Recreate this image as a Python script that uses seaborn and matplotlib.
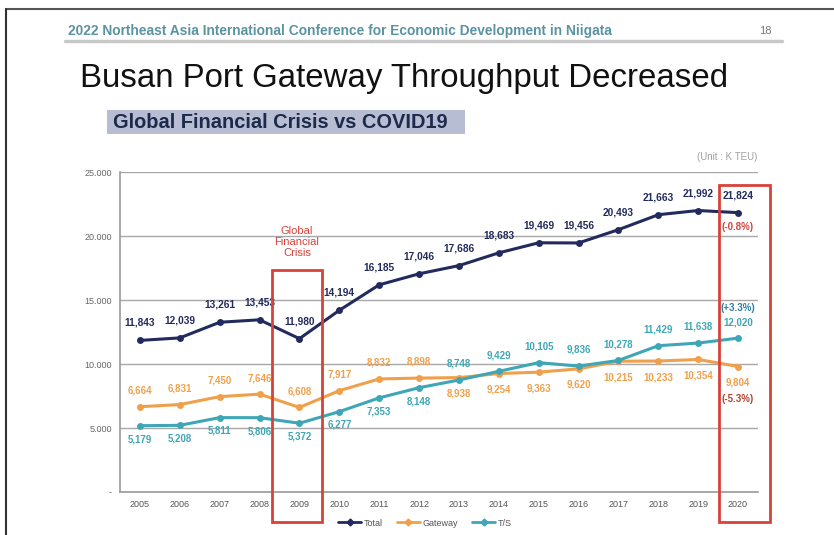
import matplotlib
matplotlib.use("Agg")
import matplotlib.pyplot as plt
from matplotlib.patches import Rectangle
from matplotlib.lines import Line2D
import seaborn as sns
import pandas as pd
import numpy as np

years = [2005, 2006, 2007, 2008, 2009, 2010, 2011, 2012, 2013, 2014, 2015, 2016, 2017, 2018, 2019, 2020]
total = [11843, 12039, 13261, 13453, 11980, 14194, 16185, 17046, 17686, 18683, 19469, 19456, 20493, 21663, 21992, 21824]
gateway = [6664, 6831, 7450, 7646, 6608, 7917, 8832, 8898, 8938, 9254, 9363, 9620, 10215, 10233, 10354, 9804]
ts = [5179, 5208, 5811, 5806, 5372, 6277, 7353, 8148, 8748, 9429, 10105, 9836, 10278, 11429, 11638, 12020]
series_names = ["Total", "Gateway", "T/S"]
change_labels = ["(-0.8%)", "(-5.3%)", "(+3.3%)"]
y_ticks = [0, 5000, 10000, 15000, 20000, 25000]
y_tick_labels = ["-", "5.000", "10.000", "15.000", "20.000", "25.000"]

sns.set_theme(style="white")
plt.rcParams['font.family'] = ['Liberation Sans', 'DejaVu Sans']

W, H = 834, 535
fig = plt.figure(figsize=(W / 100, H / 100), dpi=100)
fig.patch.set_facecolor("white")

def fx(px):
    return px / W

def fy(py):
    return 1 - py / H

ax = fig.add_axes([fx(120), fy(492), fx(758) - fx(120), fy(172) - fy(492)])

colors = {"Total": "#232b5e", "Gateway": "#f0a04b", "T/S": "#3ea6b6"}
df = pd.DataFrame({
    "Year": years * 3,
    "Value": total + gateway + ts,
    "Series": ["Total"] * len(years) + ["Gateway"] * len(years) + ["T/S"] * len(years),
})
sns.lineplot(data=df, x="Year", y="Value", hue="Series", hue_order=series_names,
             palette=colors, marker="o", markersize=5, markeredgewidth=0,
             linewidth=2.2, ax=ax, legend=False)

ax.set_xlim(years[0] - 0.5, years[-1] + 0.5)
ax.set_ylim(0, 25000)
ax.set_yticks(y_ticks)
ax.set_yticklabels(y_tick_labels)
ax.set_xticks(years)
ax.set_xticklabels([str(y) for y in years])
ax.set_xticks([y + 0.5 for y in [years[0] - 1] + years], minor=True)
ax.tick_params(axis="x", which="major", length=0, labelsize=6.5, labelcolor="#555555", pad=6)
ax.tick_params(axis="x", which="minor", length=3, color="#999999", width=0.8, direction="out")
ax.tick_params(axis="y", length=3, color="#999999", labelsize=6.5, labelcolor="#666666", pad=3, direction="out")
ax.grid(axis="y", color="#a8a8a8", linewidth=1.0)
ax.set_axisbelow(True)
ax.set_xlabel("")
ax.set_ylabel("")
for s in ["top", "right"]:
    ax.spines[s].set_visible(False)
ax.spines["left"].set_color("#9a9a9a")
ax.spines["bottom"].set_color("#9a9a9a")
ax.spines["left"].set_linewidth(1.2)
ax.spines["bottom"].set_linewidth(1.2)

# data labels
for i, (yr, v) in enumerate(zip(years, total)):
    ax.annotate(f"{v:,}", (yr, v), xytext=(0, 9), textcoords="offset points",
                ha="center", va="bottom", fontsize=7.3, fontweight="bold", color=colors["Total"])
for i, (yr, v) in enumerate(zip(years, gateway)):
    off = 8 if i <= 7 else -8
    ax.annotate(f"{v:,}", (yr, v), xytext=(0, off), textcoords="offset points",
                ha="center", va="bottom" if off > 0 else "top", fontsize=7.0,
                fontweight="bold", color=colors["Gateway"])
for i, (yr, v) in enumerate(zip(years, ts)):
    off = -6 if i <= 7 else 8
    ax.annotate(f"{v:,}", (yr, v), xytext=(0, off), textcoords="offset points",
                ha="center", va="bottom" if off > 0 else "top", fontsize=7.0,
                fontweight="bold", color=colors["T/S"])

red = "#d8423a"
ax.annotate(change_labels[0], (years[-1], total[-1]), xytext=(0, -7), textcoords="offset points",
            ha="center", va="top", fontsize=7.0, fontweight="bold", color=red)
ax.annotate(change_labels[1], (years[-1], gateway[-1]), xytext=(0, -20), textcoords="offset points",
            ha="center", va="top", fontsize=7.0, fontweight="bold", color="#b8402e")
ax.annotate(change_labels[2], (years[-1], ts[-1]), xytext=(0, 18), textcoords="offset points",
            ha="center", va="bottom", fontsize=7.0, fontweight="bold", color="#2e7fa0")

# red highlight boxes (figure pixel coords)
fig.patches.append(Rectangle((fx(272), fy(522)), fx(322) - fx(272), fy(270) - fy(522),
                             transform=fig.transFigure, fill=False, edgecolor=red, linewidth=2))
fig.patches.append(Rectangle((fx(719), fy(522)), fx(770) - fx(719), fy(185) - fy(522),
                             transform=fig.transFigure, fill=False, edgecolor=red, linewidth=2))
fig.text(fx(297), fy(242), "Global\nFinancial\nCrisis", ha="center", va="center",
         fontsize=8, color=red, linespacing=1.15)

fig.text(fx(757), fy(157), "(Unit : K TEU)", ha="right", va="center", fontsize=7, color="#a0a0a0")

# legend
handles = [Line2D([0], [0], color=colors[n], marker="D", markersize=3.5, linewidth=2) for n in series_names]
fig.legend(handles, series_names, loc="center", bbox_to_anchor=(fx(425), fy(523)), ncol=3,
           frameon=False, fontsize=6.5, handlelength=2.6, columnspacing=1.5, handletextpad=0.3,
           labelcolor="#555555")

# slide header
fig.text(fx(68), fy(31), "2022 Northeast Asia International Conference for Economic Development in Niigata",
         ha="left", va="center", fontsize=9.9, fontweight="bold", color="#5b93a3")
fig.text(fx(772), fy(31), "18", ha="right", va="center", fontsize=8, color="#777777")
fig.lines.append(Line2D([fx(65), fx(782)], [fy(41), fy(41)], transform=fig.transFigure,
                        color="#c8c8c8", linewidth=2.5))
fig.text(fx(80), fy(79), "Busan Port Gateway Throughput Decreased", ha="left", va="center",
         fontsize=23.8, color="#111111")
fig.patches.append(Rectangle((fx(107), fy(134)), fx(465) - fx(107), fy(110) - fy(134),
                             transform=fig.transFigure, facecolor="#b7bdd3", edgecolor="none"))
fig.text(fx(113), fy(122), "Global Financial Crisis vs COVID19", ha="left", va="center",
         fontsize=14.4, fontweight="bold", color="#1d2a4a")

# slide frame
fig.lines.append(Line2D([fx(6), 1], [fy(9), fy(9)], transform=fig.transFigure, color="#555555", linewidth=1.5))
fig.lines.append(Line2D([fx(6), fx(6)], [fy(9), 0], transform=fig.transFigure, color="#333333", linewidth=1.5))

fig.savefig("out.png", dpi=100, facecolor="white")
